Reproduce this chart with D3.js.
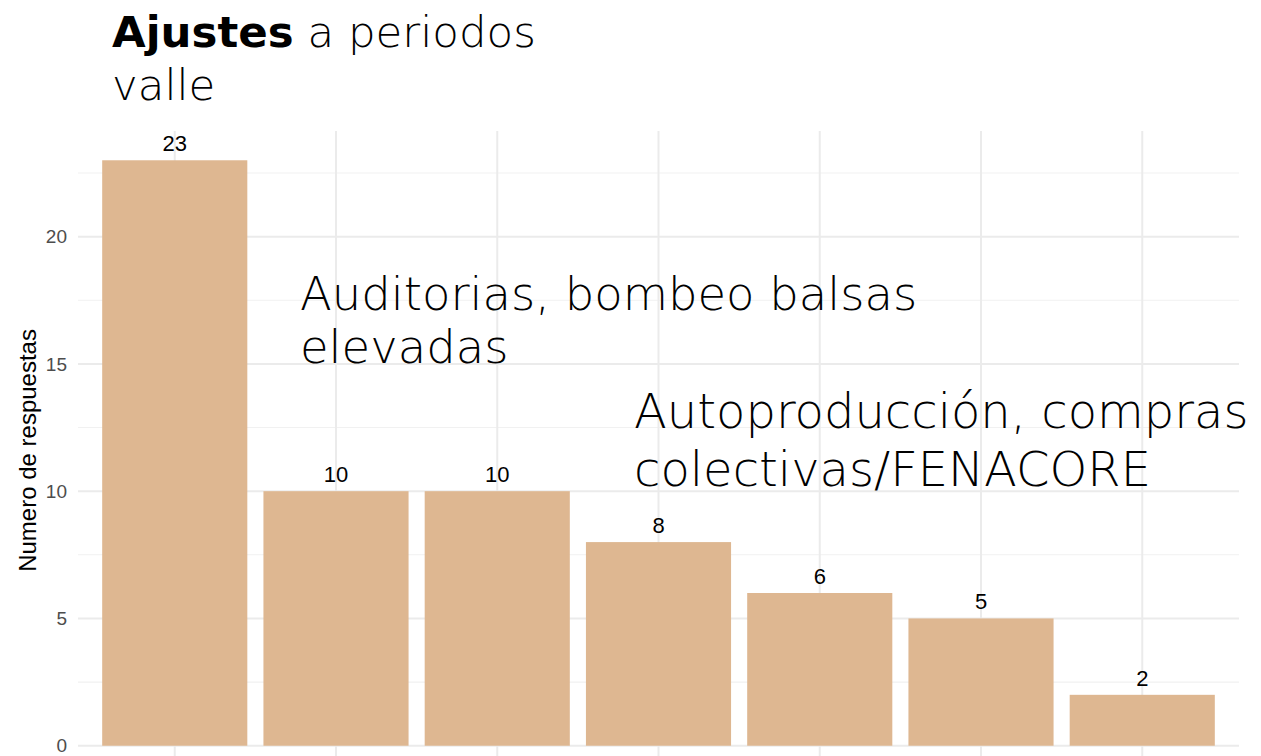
<!DOCTYPE html>
<html lang="es">
<head>
<meta charset="utf-8">
<title>Ajustes a periodos valle</title>
<script src="https://cdn.jsdelivr.net/npm/d3@7"></script>
<style>
  body { margin: 0; background: #fff; }
  svg text { font-family: "Liberation Sans", Arial, sans-serif; }
  .big { font-family: "DejaVu Sans", sans-serif; font-weight: 200; }
</style>
</head>
<body>
<script>
// data
var categorias = ["c1", "c2", "c3", "c4", "c5", "c6", "c7"];
var respuestas = [23, 10, 10, 8, 6, 5, 2];
var yTicks = [0, 5, 10, 15, 20];
var yMinor = [2.5, 7.5, 12.5, 17.5, 22.5];

var w = 1261, h = 756;
var margin = {left: 78, right: 22, top: 131, bottom: -19};

var svg = d3.select("body").append("svg")
  .attr("width", w).attr("height", h);

// ggplot-like expansion: 0.6 on discrete x, 5% on y
var xScale = d3.scaleLinear()
  .domain([1 - 0.6, categorias.length + 0.6])
  .range([margin.left, w - margin.right]);
var ymax = d3.max(respuestas);
var yScale = d3.scaleLinear()
  .domain([-ymax * 0.05, ymax * 1.05])
  .range([h - margin.bottom, margin.top]);

var grid = svg.append("g");
grid.selectAll(".minor").data(yMinor).enter().append("line")
  .attr("x1", margin.left).attr("x2", w - margin.right)
  .attr("y1", d => yScale(d)).attr("y2", d => yScale(d))
  .attr("stroke", "#f1f1f1").attr("stroke-width", 1.1);
grid.selectAll(".major").data(yTicks).enter().append("line")
  .attr("x1", margin.left).attr("x2", w - margin.right)
  .attr("y1", d => yScale(d)).attr("y2", d => yScale(d))
  .attr("stroke", "#ebebeb").attr("stroke-width", 2);
grid.selectAll(".vmajor").data(categorias).enter().append("line")
  .attr("x1", (d, i) => xScale(i + 1)).attr("x2", (d, i) => xScale(i + 1))
  .attr("y1", margin.top).attr("y2", h - margin.bottom)
  .attr("stroke", "#ebebeb").attr("stroke-width", 2);

// bars
var bw = (xScale(2) - xScale(1)) * 0.9;
svg.selectAll(".bar").data(respuestas).enter().append("rect")
  .attr("x", (d, i) => xScale(i + 1) - bw / 2)
  .attr("width", bw)
  .attr("y", d => yScale(d))
  .attr("height", d => yScale(0) - yScale(d))
  .attr("fill", "#deb791");

// labels over the bars
svg.selectAll(".lab").data(respuestas).enter().append("text")
  .attr("x", (d, i) => xScale(i + 1))
  .attr("y", d => yScale(d) - 9)
  .attr("text-anchor", "middle")
  .attr("font-size", 22)
  .attr("fill", "#000")
  .text(d => d);

// y axis
var yAxis = d3.axisLeft(yScale).tickValues(yTicks).tickSize(0).tickPadding(11);
var gy = svg.append("g").attr("transform", "translate(" + margin.left + ",0)").call(yAxis);
gy.select(".domain").remove();
gy.selectAll("text").attr("font-size", 19).attr("fill", "#4d4d4d")
  .style("font-family", "Liberation Sans, Arial, sans-serif");

svg.append("text")
  .attr("transform", "translate(36," + yScale(11.6) + ") rotate(-90)")
  .attr("text-anchor", "middle")
  .attr("font-size", 24)
  .text("Numero de respuestas");

// title and annotations
var title = svg.append("text").attr("class", "big").attr("x", 112).attr("font-size", 43.5);
title.append("tspan").attr("x", 112).attr("y", 47).attr("font-weight", 700).text("Ajustes");
title.append("tspan").text(" a periodos");
title.append("tspan").attr("x", 112).attr("y", 100).text("valle");

var notas = [
  {x: 300, y: 310, size: 46.5, gap: 53, lines: ["Auditorias, bombeo balsas", "elevadas"]},
  {x: 634, y: 428, size: 48, gap: 58, lines: ["Autoproducción, compras", "colectivas/FENACORE"]}
];
notas.forEach(function(n) {
  var t = svg.append("text").attr("class", "big").attr("font-size", n.size);
  n.lines.forEach(function(l, i) {
    t.append("tspan").attr("x", n.x).attr("y", n.y + i * n.gap).text(l);
  });
});
</script>
</body>
</html>
